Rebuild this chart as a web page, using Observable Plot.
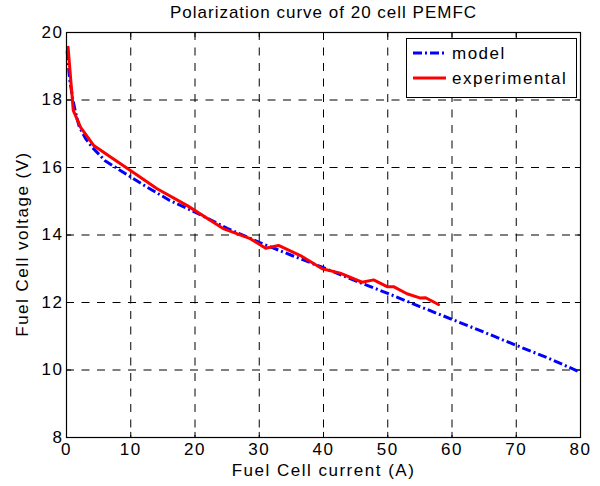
<!DOCTYPE html>
<html>
<head>
<meta charset="utf-8">
<script src="https://cdn.jsdelivr.net/npm/d3@7"></script>
<script src="https://cdn.jsdelivr.net/npm/@observablehq/plot@0.6"></script>
<style>
  html, body { margin: 0; padding: 0; background: #fff; }
  #chart { position: relative; width: 600px; height: 486px; }
</style>
</head>
<body>
<div id="chart"></div>
<script>
const title = "Polarization curve of 20 cell PEMFC";
const xLabel = "Fuel Cell current (A)";
const yLabel = "Fuel Cell voltage (V)";
const seriesNames = ["model", "experimental"];
const xTicks = [0, 10, 20, 30, 40, 50, 60, 70, 80];
const yTicks = [8, 10, 12, 14, 16, 18, 20];

const modelCurrent = [0.1, 0.5, 1, 1.5, 2, 3, 4, 6, 8, 10, 12, 16, 20, 25, 30, 35, 40, 45, 50, 55, 60, 65, 70, 75, 80];
const modelVoltage = [19.45, 18.6, 18.0, 17.55, 17.2, 16.85, 16.6, 16.2, 15.96, 15.72, 15.48, 15.03, 14.68, 14.2, 13.78, 13.4, 13.03, 12.64, 12.27, 11.88, 11.5, 11.12, 10.73, 10.35, 9.93];

const expCurrent = [0.25, 1.05, 2.2, 4.25, 6.85, 9.96, 14.1, 18.8, 24.5, 28.6, 31.0, 33.0, 36.4, 39.8, 42.6, 46.0, 47.8, 49.9, 50.9, 53.0, 55.1, 55.9, 57.9];
const expVoltage = [19.56, 17.69, 17.19, 16.65, 16.31, 15.91, 15.37, 14.87, 14.18, 13.89, 13.61, 13.69, 13.39, 13.0, 12.87, 12.6, 12.67, 12.47, 12.47, 12.26, 12.13, 12.14, 11.94];

const model = modelCurrent.map((x, i) => ({x, y: modelVoltage[i]}));
const exp = expCurrent.map((x, i) => ({x, y: expVoltage[i]}));

const font = "'Liberation Sans', Arial, Helvetica, sans-serif";
const blue = "#0000ff", red = "#ff0000";
const dashDot = "9,3,2,3";
const gridDash = "8,7.5";
const innerX = xTicks.slice(1, -1);
const innerY = yTicks.slice(1, -1);

const plot = Plot.plot({
  width: 600,
  height: 486,
  marginLeft: 66,
  marginRight: 20,
  marginTop: 32,
  marginBottom: 49,
  style: {fontFamily: font, fontSize: "17px", color: "#000", background: "#fff", letterSpacing: "1.5px"},
  x: {domain: [0, 80], ticks: xTicks},
  y: {domain: [8, 20], ticks: yTicks},
  marks: [
    Plot.gridX(innerX, {stroke: "#000", strokeOpacity: 1, strokeDasharray: gridDash, strokeWidth: 1}),
    Plot.gridY(innerY, {stroke: "#000", strokeOpacity: 1, strokeDasharray: gridDash, strokeWidth: 1}),
    // inward tick marks on all four sides (MATLAB style)
    Plot.ruleX(innerX, {y1: 8, y2: 8.15, stroke: "#000"}),
    Plot.ruleX(innerX, {y1: 19.85, y2: 20, stroke: "#000"}),
    Plot.ruleY(innerY, {x1: 0, x2: 0.8, stroke: "#000"}),
    Plot.ruleY(innerY, {x1: 79.2, x2: 80, stroke: "#000"}),
    Plot.axisX(xTicks, {tickSize: 0, tickPadding: 5, fontSize: 17, label: null}),
    Plot.axisY(yTicks, {tickSize: 0, tickPadding: 3, fontSize: 17, label: null}),
    Plot.line(model, {x: "x", y: "y", stroke: blue, strokeWidth: 3, strokeDasharray: dashDot, strokeLinecap: "butt"}),
    Plot.line(exp, {x: "x", y: "y", stroke: red, strokeWidth: 3}),
    Plot.frame({stroke: "#000", strokeWidth: 1.2}),
    Plot.text([title], {frameAnchor: "top", lineAnchor: "middle", dy: -20, fontSize: 17, fill: "#000"}),
    Plot.text([xLabel], {frameAnchor: "bottom", lineAnchor: "middle", dy: 33, fontSize: 17, fill: "#000"}),
    Plot.text([yLabel], {frameAnchor: "left", textAnchor: "middle", lineAnchor: "middle", dx: -44, dy: 9, rotate: -90, fontSize: 17, fill: "#000"})
  ]
});

const svg = d3.select(plot);
svg.selectAll("text").filter(function() { return this.textContent === title; })
  .style("letter-spacing", "1px");

// Legend (MATLAB-style box, upper right)
const lg = svg.append("g").attr("font-family", font).attr("font-size", 17).attr("text-anchor", "start");
lg.append("rect").attr("x", 406.5).attr("y", 38.5).attr("width", 170).attr("height", 59)
  .attr("fill", "#fff").attr("stroke", "#000").attr("stroke-width", 1);
const colors = [blue, red];
const dashes = [dashDot, null];
seriesNames.forEach((name, i) => {
  const yy = 53 + i * 25;
  const ln = lg.append("line").attr("x1", 413).attr("x2", 446).attr("y1", yy).attr("y2", yy)
    .attr("stroke", colors[i]).attr("stroke-width", 3);
  if (dashes[i]) ln.attr("stroke-dasharray", dashes[i]);
  lg.append("text").attr("x", 452).attr("y", yy).attr("dy", "0.35em")
    .attr("text-anchor", "start").attr("fill", "#000").text(name);
});

document.getElementById("chart").appendChild(plot);
</script>
</body>
</html>
